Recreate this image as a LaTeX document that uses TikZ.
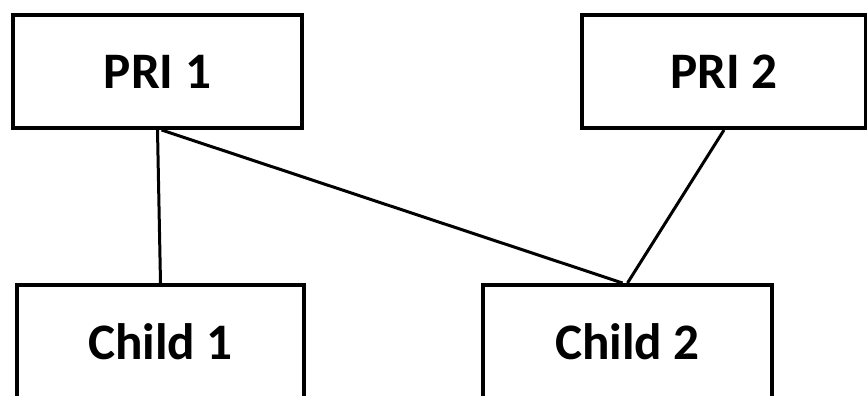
\documentclass[tikz,border=0pt]{standalone}
\usepackage{fontspec}
\setmainfont{Carlito}

\begin{document}
\begin{tikzpicture}[x=0.5pt, y=0.5pt, line width=1.5pt,
    box/.style={draw, line width=2pt, rectangle, inner sep=0pt,
      minimum height=56.5pt, font=\fontsize{25.6}{30}\selectfont\bfseries}]
  \clip (0,0) rectangle (867,396);
  \useasboundingbox (0,0) rectangle (867,396);
  \path node (P1) at (157.5,324.5) [box, minimum width=144.5pt] {PRI 1}
        node (P2) at (724,324.5)   [box, minimum width=142pt]   {PRI 2}
        node (C1) at (160.5,54.5)  [box, minimum width=143.5pt] {Child 1}
        node (C2) at (627.5,54.5)  [box, minimum width=144.5pt] {Child 2};
  \draw (P1.south) -- (C1.north)
        ([xshift=2pt]P1.south) -- ([xshift=-2.5pt]C2.north)
        (P2.south) -- (C2.north);
\end{tikzpicture}
\end{document}
